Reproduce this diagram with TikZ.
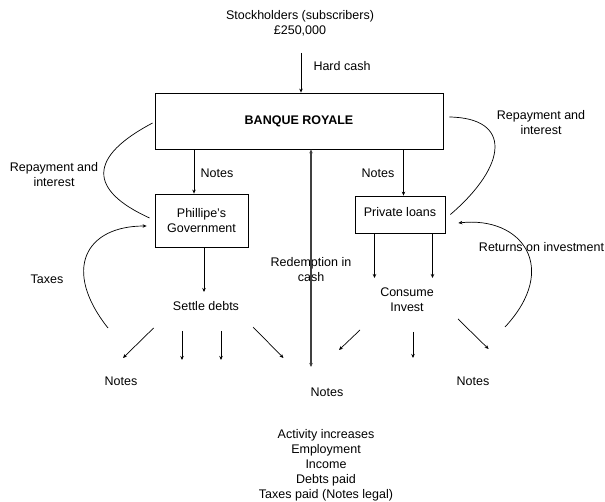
\documentclass[tikz,border=0pt]{standalone}
\usepackage{fontspec}
\setmainfont{Liberation Sans}
\usetikzlibrary{arrows.meta, positioning}
\tikzset{
    block/.style={
        rectangle,
        draw=black,
        line width=0.8pt,
        fill=white,
        inner sep=0pt,
        align=center,
        font=\fontsize{12.5}{15}\selectfont
    },
    txt/.style={
        inner sep=0pt,
        align=center,
        font=\fontsize{12.5}{15}\selectfont
    },
    arrowline/.style={
        draw=black,
        line width=0.7pt,
        -{Stealth[length=4pt,width=3.5pt]}
    },
    curveline/.style={
        draw=black,
        line width=0.7pt
    },
    redeemline/.style={
        draw=black!75,
        line width=1.1pt,
        {Stealth[length=4pt,width=3.5pt]}-{Stealth[length=4pt,width=3.5pt]}
    }
}

\begin{document}
\begin{tikzpicture}[x=1pt, y=-1pt]
\useasboundingbox (0,0) rectangle (605,502);

\node[txt] (stock) at (300,23) {Stockholders (subscribers)\\£250,000};
\node[block, minimum width=288pt, minimum height=56pt, font=\fontsize{12.5}{15}\selectfont\bfseries] (banque) at (299,121) {BANQUE ROYALE};
\node[block, minimum width=93pt, minimum height=53pt] (gov) at (201.5,220.5) {Phillipe’s\\Government};
\node[block, minimum width=90pt, minimum height=37pt, text height=13pt, text depth=8pt] (loans) at (400,214.5) {Private loans};

\node[txt] (settle) at (206,306) {Settle debts};
\node[txt] (consume) at (407,300) {Consume\\Invest};
\node[txt] (redeem) at (311,269.5) {Redemption in\\cash};
\node[txt] (notesL) at (121,381) {Notes};
\node[txt] (notesM) at (327,392) {Notes};
\node[txt] (notesR) at (473,381) {Notes};
\node[txt] (activity) at (326,465.5) {Activity increases\\Employment\\Income\\Debts paid\\Taxes paid (Notes legal)};

% labels
\node[txt] (hardcash) at (342,66) {Hard cash};
\node[txt] (notesgov) at (217,173) {Notes};
\node[txt] (notesloans) at (378,173) {Notes};
\node[txt] (repayL) at (54,174.5) {Repayment and\\interest};
\node[txt] (repayR) at (541,122.5) {Repayment and\\interest};
\node[txt] (taxes) at (47,279) {Taxes};
\node[txt] (returns) at (541.5,247) {Returns on investment};

% free ends
\coordinate (cashTop) at (301,53);
\coordinate (xGov) at (194,0);
\coordinate (xLoans) at (403.5,0);
\coordinate (redeemBot) at (311,367);
\coordinate (settleEnd) at (204,292);
\coordinate (consumeL) at (374.5,278);
\coordinate (consumeR) at (432.5,278);
\coordinate (fa1) at (153.6,328); \coordinate (fb1) at (123,358);
\coordinate (fa2) at (182,331);   \coordinate (fb2) at (182,360);
\coordinate (fa3) at (221,331);   \coordinate (fb3) at (221,360);
\coordinate (fa4) at (253,327);   \coordinate (fb4) at (283.5,358);
\coordinate (ga1) at (360,330);   \coordinate (gb1) at (339,350);
\coordinate (ga2) at (413,332);   \coordinate (gb2) at (413,358);
\coordinate (ga3) at (458,319);   \coordinate (gb3) at (488.6,349);
\coordinate (taxStart) at (108,328);
\coordinate (retStart) at (505,327);

\draw[arrowline] (cashTop) -- (cashTop |- banque.north);
\draw[arrowline] (xGov |- banque.south) -- (xGov |- gov.north);
\draw[arrowline] (xLoans |- banque.south) -- (xLoans |- loans.north);
\draw[redeemline] (redeemBot) -- (redeemBot |- banque.south);
\draw[arrowline] (settleEnd |- gov.south) -- (settleEnd);
\draw[arrowline] (consumeL |- loans.south) -- (consumeL);
\draw[arrowline] (consumeR |- loans.south) -- (consumeR);

\draw[arrowline] (fa1) -- (fb1);
\draw[arrowline] (fa2) -- (fb2);
\draw[arrowline] (fa3) -- (fb3);
\draw[arrowline] (fa4) -- (fb4);
\draw[arrowline] (ga1) -- (gb1);
\draw[arrowline] (ga2) -- (gb2);
\draw[arrowline] (ga3) -- (gb3);

% loops
\draw[curveline] ([xshift=-2pt,yshift=-2pt]banque.west) .. controls (88,157) and (88,190) .. ([xshift=-5pt,yshift=2.5pt]gov.west);
\draw[curveline] ([xshift=6pt,yshift=4pt]banque.east) .. controls (512,118) and (508,165) .. ([xshift=5pt]loans.east);
\draw[arrowline] (taxStart) .. controls (62,270) and (85,226) .. ([xshift=-8pt,yshift=-5.5pt]gov.west);
\draw[arrowline] (retStart) .. controls (560,268) and (522,216) .. ([xshift=13pt,yshift=-8.5pt]loans.east);

\end{tikzpicture}
\end{document}
